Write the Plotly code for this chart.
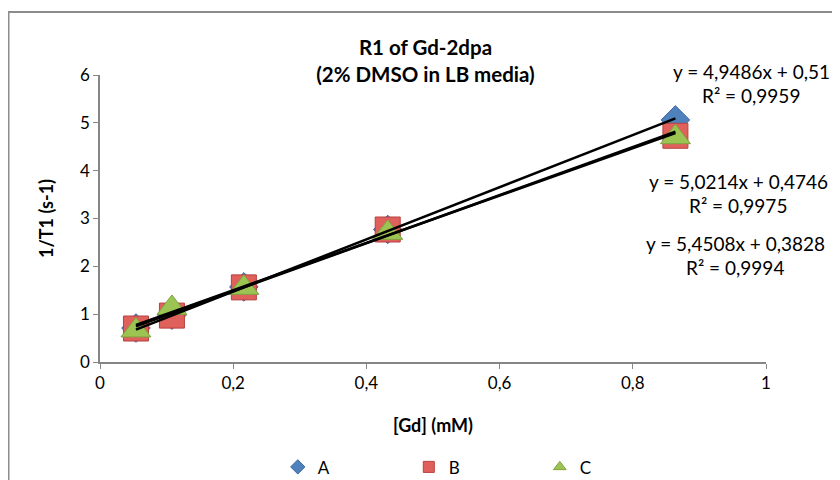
import plotly.graph_objects as go

# ---- data ----
conc = [0.054, 0.108, 0.216, 0.432, 0.864]          # [Gd] (mM)
series_names = ["A", "B", "C"]
r1_A = [0.71, 0.98, 1.57, 2.77, 5.06]
r1_B = [0.70, 0.97, 1.56, 2.77, 4.73]
r1_C = [0.66, 1.13, 1.55, 2.70, 4.70]
slopes = [5.4508, 5.0214, 4.9486]
intercepts = [0.3828, 0.4746, 0.51]
eq_labels = [("y = 4,9486x + 0,51", "R² = 0,9959"),
             ("y = 5,0214x + 0,4746", "R² = 0,9975"),
             ("y = 5,4508x + 0,3828", "R² = 0,9994")]
x_ticks = [0, 0.2, 0.4, 0.6, 0.8, 1]
y_ticks = [0, 1, 2, 3, 4, 5, 6]

FONT = "Lato"
styles = {
    "A": dict(symbol="diamond", color="#4F81BD", line="#3A679E", size=22),
    "B": dict(symbol="square", color="#E0605C", line="#B5423F", size=25),
    "C": dict(symbol="triangle-up", color="#9BC453", line="#7FA33F", size=26),
}

fig = go.Figure()
values = {"A": r1_A, "B": r1_B, "C": r1_C}
for name in series_names:
    st = styles[name]
    fig.add_trace(go.Scatter(
        x=conc, y=values[name], mode="markers", name=name, showlegend=False,
        marker=dict(symbol=st["symbol"], size=st["size"], color=st["color"],
                    line=dict(color=st["line"], width=1)),
        cliponaxis=False))

# trendlines (black)
for m, b in zip(slopes, intercepts):
    xs = [min(conc), max(conc)]
    fig.add_trace(go.Scatter(x=xs, y=[m * v + b for v in xs], mode="lines",
                             line=dict(color="black", width=2.5),
                             showlegend=False, hoverinfo="skip"))

# legend entries (small markers)
for name in series_names:
    st = styles[name]
    fig.add_trace(go.Scatter(
        x=[None], y=[None], mode="markers", name=name,
        marker=dict(symbol=st["symbol"], size=11, color=st["color"],
                    line=dict(color=st["line"], width=1))))

# equation labels (paper coords)
eq_pos = [(0.9775, 1.0136, 0.930), (0.9587, 0.630, 0.5466), (0.9535, 0.414, 0.330)]
for (eq, r2), (xp, y1, y2) in zip(eq_labels, eq_pos):
    for txt, yy in ((eq, y1), (r2, y2)):
        fig.add_annotation(x=xp, y=yy, xref="paper", yref="paper", text=txt,
                           showarrow=False, xanchor="center", yanchor="middle",
                           font=dict(family=FONT, size=19, color="black"))

# outer chart border
fig.add_shape(type="rect", xref="paper", yref="paper",
              x0=-0.1374, x1=1.3, y0=-0.6, y1=1.2197,
              line=dict(color="#8C8C8C", width=2), layer="below")

fig.update_layout(
    width=840, height=480,
    margin=dict(l=92, r=82, t=67, b=126.3, autoexpand=False),
    paper_bgcolor="white", plot_bgcolor="white",
    separators=", ",
    font=dict(family=FONT, size=16, color="black"),
    title=dict(text="<b>R1 of Gd-2dpa<br>(2% DMSO in LB media)</b>",
               x=0.497, xanchor="center", y=0.902, yanchor="top",
               font=dict(family=FONT, size=20.5, color="black")),
    xaxis=dict(range=[0, 1], tickvals=x_ticks, showgrid=False, zeroline=False,
               showline=True, linecolor="#868686", linewidth=1.5, automargin=False,
               ticks="outside", ticklen=5, tickcolor="#868686",
               tickfont=dict(size=17),
               title=dict(text="<b>[Gd] (mM)</b>", font=dict(size=18), standoff=27)),
    yaxis=dict(range=[0, 6], tickvals=y_ticks, showgrid=False, zeroline=False,
               showline=True, linecolor="#868686", linewidth=1.5, automargin=False,
               ticks="outside", ticklen=5, tickcolor="#868686",
               tickfont=dict(size=17),
               title=dict(text="<b>1/T1 (s-1)</b>", font=dict(size=18), standoff=22)),
    legend=dict(orientation="h", x=0.562, xanchor="center", y=-0.367, yanchor="middle",
                entrywidth=86, entrywidthmode="pixels",
                font=dict(family=FONT, size=17, color="black")),
)

fig.write_html("out.html")
